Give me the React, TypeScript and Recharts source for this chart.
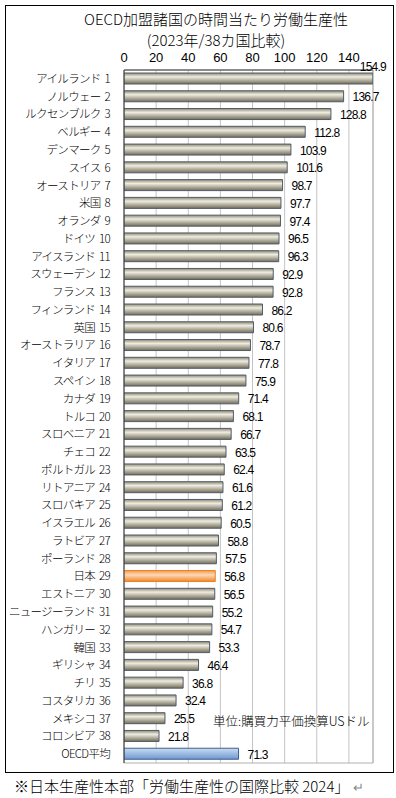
import React from 'react';
import { BarChart, Bar, XAxis, YAxis, CartesianGrid, Cell, LabelList, ReferenceArea } from 'recharts';

const countries = [
  'アイルランド 1', 'ノルウェー 2', 'ルクセンブルク 3', 'ベルギー 4', 'デンマーク 5',
  'スイス 6', 'オーストリア 7', '米国 8', 'オランダ 9', 'ドイツ 10',
  'アイスランド 11', 'スウェーデン 12', 'フランス 13', 'フィンランド 14', '英国 15',
  'オーストラリア 16', 'イタリア 17', 'スペイン 18', 'カナダ 19', 'トルコ 20',
  'スロベニア 21', 'チェコ 22', 'ポルトガル 23', 'リトアニア 24', 'スロバキア 25',
  'イスラエル 26', 'ラトビア 27', 'ポーランド 28', '日本 29', 'エストニア 30',
  'ニュージーランド 31', 'ハンガリー 32', '韓国 33', 'ギリシャ 34', 'チリ 35',
  'コスタリカ 36', 'メキシコ 37', 'コロンビア 38', 'OECD平均',
];

const productivity = [
  154.9, 136.7, 128.8, 112.8, 103.9,
  101.6, 98.7, 97.7, 97.4, 96.5,
  96.3, 92.9, 92.8, 86.2, 80.6,
  78.7, 77.8, 75.9, 71.4, 68.1,
  66.7, 63.5, 62.4, 61.6, 61.2,
  60.5, 58.8, 57.5, 56.8, 56.5,
  55.2, 54.7, 53.3, 46.4, 36.8,
  32.4, 25.5, 21.8, 71.3,
];

const xTicks = [0, 20, 40, 60, 80, 100, 120, 140];
const xMax = 155;

const data = countries.map((name, i) => ({ name, value: productivity[i] }));

const JP = '"Noto Sans CJK JP", "Noto Sans", sans-serif';
const NUM = '"Liberation Sans", Arial, sans-serif';

const ValueLabel = (props: any) => {
  const { x, y, width, height, value, index } = props;
  const end = x + width;
  // top bar runs to the plot edge, so its label sits above it
  if (index === 0) {
    return (
      <text x={end - 13} y={y - 2} fontSize={12} fontFamily={NUM} letterSpacing={-0.8} fill="#000">
        {value.toFixed(1)}
      </text>
    );
  }
  return (
    <text x={end + 9} y={y + height / 2 + 5} fontSize={12} fontFamily={NUM} letterSpacing={-0.8} fill="#000">
      {value.toFixed(1)}
    </text>
  );
};

const CountryTick = (props: any) => {
  const { x, y, payload } = props;
  const label: string = payload.value;
  const sp = label.lastIndexOf(' ');
  const name = sp > 0 ? label.slice(0, sp) : label;
  const rank = sp > 0 ? label.slice(sp + 1) : '';
  return (
    <text x={x} y={y} dy={4} textAnchor="end" fontSize={11.5} fontFamily={JP} fontWeight={300} letterSpacing={-0.7} fill="#000">
      <tspan>{name}</tspan>
      {rank && <tspan dx={4}>{rank}</tspan>}
    </text>
  );
};

export default function App() {
  return (
    <div style={{ position: 'absolute', left: 0, top: 0, width: 396, height: 798, background: '#fff' }}>
      <div
        style={{
          position: 'absolute', left: 5, top: 5, width: 389, height: 768,
          border: '1px solid #000', boxSizing: 'border-box',
        }}
      />
      <div style={{ position: 'absolute', left: 0, width: 432, top: 8, textAlign: 'center', fontFamily: JP, fontSize: 15, fontWeight: 300, lineHeight: '21px', color: '#000' }}>
        OECD加盟諸国の時間当たり労働生産性
        <br />
        (2023年/38カ国比較)
      </div>

      <div style={{ position: 'absolute', left: 0, top: 0 }}>
        <BarChart
          width={396}
          height={798}
          data={data}
          layout="vertical"
          margin={{ top: 40, right: 23, bottom: 35, left: 0 }}
          barCategoryGap={0}
        >
          <defs>
            <linearGradient id="gGray" x1="0" y1="0" x2="0" y2="1">
              <stop offset="0%" stopColor="#8f8a74" />
              <stop offset="35%" stopColor="#efece1" />
              <stop offset="100%" stopColor="#726d59" />
            </linearGradient>
            <linearGradient id="gOrange" x1="0" y1="0" x2="0" y2="1">
              <stop offset="0%" stopColor="#f39a4a" />
              <stop offset="40%" stopColor="#fcd9b8" />
              <stop offset="100%" stopColor="#ef8628" />
            </linearGradient>
            <linearGradient id="gBlue" x1="0" y1="0" x2="0" y2="1">
              <stop offset="0%" stopColor="#c9dcf3" />
              <stop offset="100%" stopColor="#6d98d3" />
            </linearGradient>
          </defs>
          <CartesianGrid horizontal={false} vertical stroke="#c4c4c4" />
          <ReferenceArea x1={0} x2={xMax} fill="none" stroke="#b0b0b0" ifOverflow="visible" />
          <XAxis
            type="number"
            orientation="top"
            domain={[0, xMax]}
            ticks={xTicks}
            allowDataOverflow
            height={30}
            tickLine={false}
            tickSize={0}
            tickMargin={8}
            axisLine={{ stroke: '#404040' }}
            tick={{ fontSize: 13, fill: '#000', fontFamily: NUM }}
          />
          <YAxis
            type="category"
            dataKey="name"
            width={124}
            interval={0}
            tickLine={false}
            tickMargin={8}
            axisLine={{ stroke: '#404040' }}
            tick={<CountryTick />}
          />
          <Bar dataKey="value" barSize={11} isAnimationActive={false} strokeWidth={1}>
            {data.map((d) => {
              let fill = 'url(#gGray)';
              let stroke = '#515b68';
              if (d.name.startsWith('日本')) {
                fill = 'url(#gOrange)';
                stroke = '#f07f1e';
              }
              if (d.name === 'OECD平均') {
                fill = 'url(#gBlue)';
                stroke = '#3f5f88';
              }
              return <Cell key={d.name} fill={fill} stroke={stroke} />;
            })}
            <LabelList dataKey="value" content={ValueLabel} />
          </Bar>
        </BarChart>
      </div>

      <div style={{ position: 'absolute', left: 213, top: 711, fontFamily: JP, fontSize: 12.5, fontWeight: 300, color: '#000', whiteSpace: 'nowrap' }}>
        単位:購買力平価換算USドル
      </div>

      <div style={{ position: 'absolute', left: 14, top: 775, fontFamily: JP, fontSize: 15, fontWeight: 300, color: '#000', whiteSpace: 'nowrap' }}>
        ※日本生産性本部「労働生産性の国際比較 2024」<span style={{ color: '#888', fontSize: 13, marginLeft: 4 }}>↵</span>
      </div>
    </div>
  );
}
